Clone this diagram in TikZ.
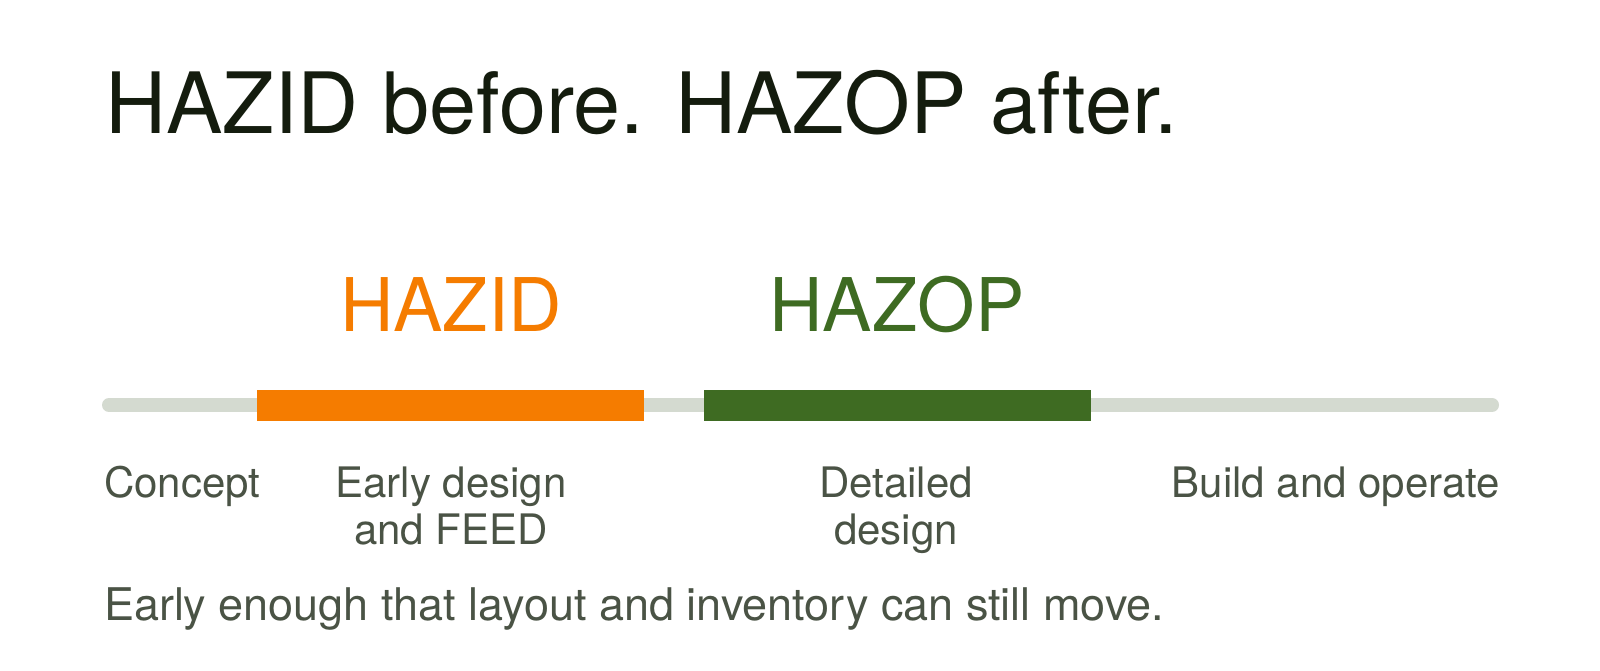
\documentclass[tikz,border=0pt]{standalone}
\usepackage{fontspec}
\setmainfont{TeX Gyre Heros}
\usepackage{xcolor}
\usepackage{tikz}

\definecolor{ink}{HTML}{141C0E}
\definecolor{muted}{HTML}{4A5345}
\definecolor{hazidorange}{HTML}{F57C00}
\definecolor{hazopgreen}{HTML}{3E6B22}
\definecolor{trackgray}{HTML}{D4DAD0}

\tikzset{
  txt/.style={inner sep=0pt, outer sep=0pt},
  phase/.style={txt, muted, align=center, font=\fontsize{21}{23.5}\selectfont},
}

\begin{document}
\begin{tikzpicture}[x=0.5pt, y=-0.5pt]
\useasboundingbox[fill=white] (0,0) rectangle (1600,670);

% title
\node[txt, ink, anchor=base west, font=\fontsize{42.3}{50}\selectfont] (title) at (105,133) {HAZID before. HAZOP after.};

% timeline
\coordinate (tstart) at (109,405);
\coordinate (tend) at (1492,405);
\draw[trackgray, line width=7pt, line cap=round] (tstart) -- (tend);
\fill[hazidorange] (257,390) rectangle (644,421);
\fill[hazopgreen] (704,390) rectangle (1091,421);

% study names
\node[txt, hazidorange, anchor=base, font=\fontsize{37}{40}\selectfont] (hazid) at (451,331) {HAZID};
\node[txt, hazopgreen, anchor=base, font=\fontsize{37}{40}\selectfont] (hazop) at (897,331) {HAZOP};

% phases (base of a two-line node is its last line)
\node[phase, anchor=base west] (concept) at (104,497) {Concept};
\node[phase, anchor=base] (feed) at (451,544) {Early design\\and FEED};
\node[phase, anchor=base] (detail) at (896,544) {Detailed\\design};
\node[phase, anchor=base east] (build) at (1500,497) {Build and operate};

% note
\node[txt, muted, anchor=base west, font=\fontsize{22.5}{26}\selectfont] (note) at (104,620) {Early enough that layout and inventory can still move.};
\end{tikzpicture}
\end{document}
